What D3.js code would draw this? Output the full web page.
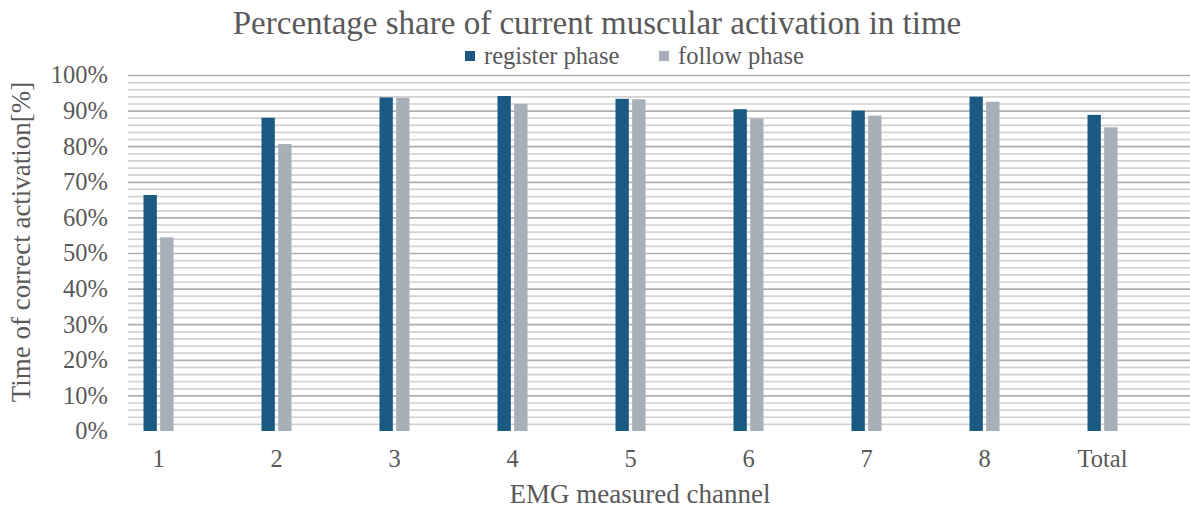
<!DOCTYPE html>
<html>
<head>
<meta charset="utf-8">
<script src="https://cdn.jsdelivr.net/npm/d3@7"></script>
<style>
  html, body { margin: 0; padding: 0; background: #fff; }
  svg { display: block; }
  text { font-family: "Liberation Serif", "Times New Roman", serif; fill: #595959; }
</style>
</head>
<body>
<svg id="chart" width="1190" height="508"></svg>
<script>
// Chart data
const categories = ["1", "2", "3", "4", "5", "6", "7", "8", "Total"];
const seriesNames = ["register phase", "follow phase"];
const registerPhase = [66.3, 88.0, 93.7, 94.1, 93.3, 90.4, 90.0, 93.9, 88.8];
const followPhase   = [54.4, 80.6, 93.6, 91.9, 93.2, 87.8, 88.6, 92.5, 85.3];
const yTicks = [0, 10, 20, 30, 40, 50, 60, 70, 80, 90, 100];
const colors = ["#1a5a82", "#a7afb9"];

const svg = d3.select("#chart");

const plot = { left: 128, right: 1190, top: 75, bottom: 431 };

const y = d3.scaleLinear().domain([0, 100]).range([plot.bottom, plot.top]);
const x0 = d3.scaleBand().domain(categories).range([99.5, 1161.5]);
const x1 = d3.scaleBand().domain(seriesNames).range([-15, 15]).paddingInner(0.2);

// Minor gridlines every 2 %, major every 10 %
const minor = d3.range(2, 100, 2).filter(v => v % 10 !== 0);
svg.append("g").selectAll("line").data(minor).join("line")
  .attr("x1", plot.left).attr("x2", plot.right)
  .attr("y1", d => y(d) + 0.5).attr("y2", d => y(d) + 0.5)
  .attr("stroke", "#d2d2d2").attr("stroke-width", 1.7);
svg.append("g").selectAll("line").data(yTicks.filter(v => v > 0)).join("line")
  .attr("x1", plot.left).attr("x2", plot.right)
  .attr("y1", d => y(d) + 0.5).attr("y2", d => y(d) + 0.5)
  .attr("stroke", "#aeaeae").attr("stroke-width", 1.7);

// Bars
const rows = categories.map((c, i) => ({ cat: c, values: [registerPhase[i], followPhase[i]] }));
const groups = svg.append("g").selectAll("g").data(rows).join("g")
  .attr("transform", d => `translate(${x0(d.cat) + x0.bandwidth() / 2},0)`);
groups.selectAll("rect").data(d => d.values.map((v, k) => ({ v, k }))).join("rect")
  .attr("x", d => x1(seriesNames[d.k]))
  .attr("width", x1.bandwidth())
  .attr("y", d => y(d.v))
  .attr("height", d => y(0) - y(d.v))
  .attr("fill", d => colors[d.k]);

// Y axis labels
const yAxis = svg.append("g").attr("transform", `translate(${plot.left},0)`)
  .call(d3.axisLeft(y).tickValues(yTicks).tickFormat(d => d + "%").tickSize(0).tickPadding(20));
yAxis.select(".domain").remove();
yAxis.selectAll("text").style("font-size", "24.5px").style("font-family", "Liberation Serif, serif").attr("fill", "#595959");

// X axis labels
const xAxis = svg.append("g").attr("transform", `translate(0,${plot.bottom})`)
  .call(d3.axisBottom(x0).tickSize(0).tickPadding(19));
xAxis.select(".domain").remove();
xAxis.selectAll("text").style("font-size", "24.5px").style("font-family", "Liberation Serif, serif").attr("fill", "#595959");

// Title
svg.append("text").attr("x", 597).attr("y", 34).attr("text-anchor", "middle")
  .style("font-size", "33px").text("Percentage share of current muscular activation in time");

// Legend
const legend = svg.append("g");
const legendPos = [465, 659];
seriesNames.forEach((s, k) => {
  legend.append("rect").attr("x", legendPos[k]).attr("y", 51).attr("width", 10).attr("height", 10)
    .attr("fill", colors[k]);
  legend.append("text").attr("x", legendPos[k] + 19).attr("y", 64)
    .style("font-size", "24.5px").text(s);
});

// Axis titles
svg.append("text").attr("x", 640).attr("y", 503).attr("text-anchor", "middle")
  .style("font-size", "27px").text("EMG measured channel");
svg.append("text").attr("transform", "translate(30,242) rotate(-90)").attr("text-anchor", "middle")
  .style("font-size", "27px").text("Time of correct activation[%]");
</script>
</body>
</html>
